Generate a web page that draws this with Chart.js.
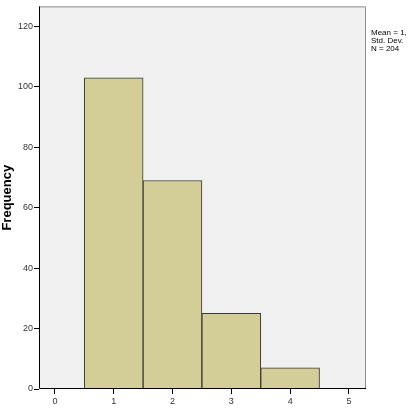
<!DOCTYPE html>
<html>
<head>
<meta charset="utf-8">
<script src="https://cdn.jsdelivr.net/npm/chart.js@4"></script>
<style>
  html, body { margin: 0; padding: 0; background: #fff; }
  #wrap { width: 409px; height: 413px; }
</style>
</head>
<body>
<div id="wrap"><canvas id="c"></canvas></div>
<script>
// histogram data
const binCenters = [1, 2, 3, 4];
const frequencies = [103, 69, 25, 7];
const xTickValues = [0, 1, 2, 3, 4, 5];
const yTickValues = [0, 20, 40, 60, 80, 100, 120];
const statLines = ['Mean = 1,', 'Std. Dev.', 'N = 204'];

const frame = {
  id: 'frame',
  beforeDraw(chart) {
    const { ctx, chartArea: a } = chart;
    ctx.save();
    ctx.fillStyle = '#f0f0f0';
    ctx.fillRect(a.left, a.top, a.right - a.left, a.bottom - a.top);
    ctx.restore();
  },
  afterDraw(chart) {
    const { ctx, chartArea: a } = chart;
    ctx.save();
    // gray top and right
    ctx.strokeStyle = '#8c8c8c';
    ctx.lineWidth = 1;
    ctx.beginPath();
    ctx.moveTo(a.left, a.top + 0.5);
    ctx.lineTo(a.right - 0.5, a.top + 0.5);
    ctx.lineTo(a.right - 0.5, a.bottom);
    ctx.stroke();
    // black left and bottom
    ctx.strokeStyle = '#000';
    ctx.beginPath();
    ctx.moveTo(a.left + 0.5, a.top);
    ctx.lineTo(a.left + 0.5, a.bottom - 0.5);
    ctx.lineTo(a.right, a.bottom - 0.5);
    ctx.stroke();
    // stats box text
    ctx.fillStyle = '#000';
    ctx.font = '8px Arial, "Liberation Sans", sans-serif';
    ctx.textBaseline = 'middle';
    statLines.forEach((t, i) => ctx.fillText(t, a.right + 5, 33 + i * 8));
    ctx.restore();
  }
};

new Chart(document.getElementById('c'), {
  type: 'bar',
  data: {
    datasets: [{
      data: binCenters.map((x, i) => ({ x: x, y: frequencies[i] })),
      backgroundColor: '#d3ce97',
      borderColor: '#3a3a30',
      borderWidth: 1,
      barPercentage: 1,
      categoryPercentage: 1
    }]
  },
  options: {
    responsive: true,
    maintainAspectRatio: false,
    animation: false,
    layout: { padding: { top: 5, right: 43, left: 0, bottom: 0 } },
    plugins: { legend: { display: false }, tooltip: { enabled: false } },
    scales: {
      x: {
        type: 'linear',
        offset: false,
        min: -0.27,
        max: 5.29,
        afterBuildTicks(s) { s.ticks = xTickValues.map(v => ({ value: v })); },
        afterFit(s) { s.height = 24; },
        border: { display: false },
        grid: { offset: false, drawOnChartArea: false, tickLength: 5, color: '#000' },
        ticks: { color: '#333', padding: 2, font: { family: 'Arial', size: 9 } }
      },
      y: {
        min: 0,
        max: 126.6,
        afterBuildTicks(s) { s.ticks = yTickValues.map(v => ({ value: v })); },
        afterFit(s) { s.width = 39; },
        border: { display: false },
        grid: { drawOnChartArea: false, tickLength: 5, color: '#000' },
        ticks: { color: '#333', padding: 1, font: { family: 'Arial', size: 9 } },
        title: {
          display: true,
          text: 'Frequency',
          color: '#000',
          font: { family: 'Arial', size: 13, weight: 'bold' },
          padding: { top: 0, bottom: 0 }
        }
      }
    }
  },
  plugins: [frame]
});
</script>
</body>
</html>
